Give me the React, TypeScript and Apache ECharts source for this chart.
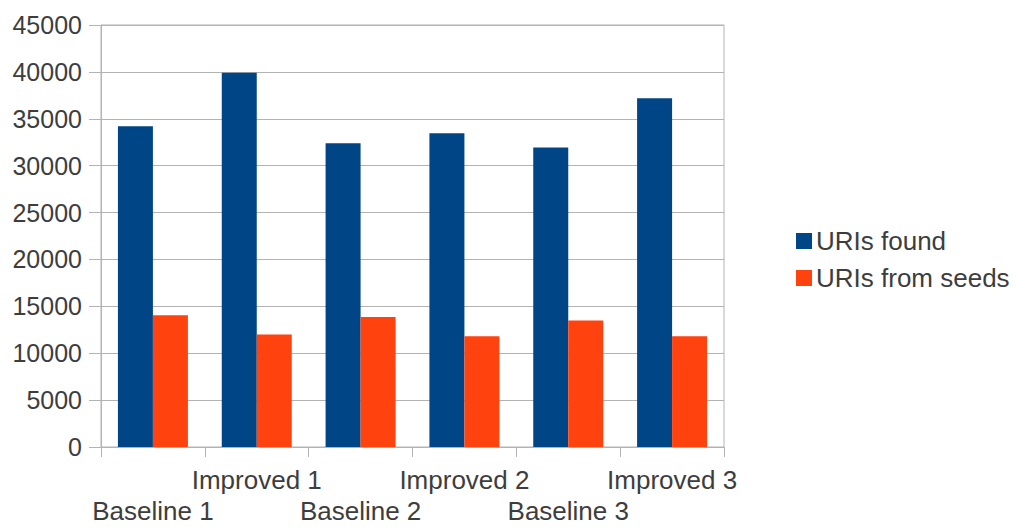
import React, { useEffect, useRef } from "react";
import * as echarts from "echarts";

const categories = ["Baseline 1", "Improved 1", "Baseline 2", "Improved 2", "Baseline 3", "Improved 3"];
const urisFound = [34200, 39900, 32400, 33450, 31950, 37200];
const urisFromSeeds = [14050, 12000, 13850, 11800, 13500, 11800];
const seriesNames = ["URIs found", "URIs from seeds"];
const yTicks = { min: 0, max: 45000, interval: 5000 };

const FONT = "'Liberation Sans', Arial, sans-serif";
const TEXT = "#3d3d3d";
const LINE = "#b3b3b3";

export default function App() {
  const ref = useRef<HTMLDivElement>(null);

  useEffect(() => {
    if (!ref.current) return;
    const chart = echarts.init(ref.current, undefined, { renderer: "svg" });
    chart.setOption({
      animation: false,
      backgroundColor: "#ffffff",
      textStyle: { fontFamily: FONT },
      grid: {
        left: 101,
        right: 292,
        top: 25,
        bottom: 83,
        containLabel: false,
        show: true,
        borderColor: LINE,
        borderWidth: 1,
      },
      legend: {
        orient: "vertical",
        left: 791,
        top: 223,
        icon: "rect",
        itemWidth: 16,
        itemHeight: 16,
        itemGap: 11,
        textStyle: { fontFamily: FONT, fontSize: 26, color: TEXT, padding: [0, 0, 0, -1] },
        data: seriesNames,
      },
      xAxis: {
        type: "category",
        data: categories,
        boundaryGap: true,
        axisLine: { show: true, lineStyle: { color: LINE, width: 1 } },
        axisTick: { show: true, length: 10, lineStyle: { color: LINE } },
        axisLabel: {
          interval: 0,
          hideOverlap: false,
          margin: 17,
          fontFamily: FONT,
          fontSize: 26,
          color: TEXT,
          lineHeight: 31,
          // Baseline labels sit on the lower row, Improved labels on the upper row
          formatter: (value: string, index: number) => (index % 2 === 0 ? "\n" + value : value + "\n"),
        },
      },
      yAxis: {
        type: "value",
        min: yTicks.min,
        max: yTicks.max,
        interval: yTicks.interval,
        axisLine: { show: true, lineStyle: { color: LINE, width: 1 } },
        axisTick: { show: true, length: 12, lineStyle: { color: LINE } },
        splitLine: { show: true, lineStyle: { color: LINE, width: 1 } },
        axisLabel: {
          margin: 19,
          fontFamily: FONT,
          fontSize: 25,
          color: TEXT,
          formatter: (v: number) => String(v),
        },
      },
      series: [
        {
          name: seriesNames[0],
          type: "bar",
          data: urisFound,
          barWidth: 35,
          barGap: "0%",
          itemStyle: { color: "#004586" },
        },
        {
          name: seriesNames[1],
          type: "bar",
          data: urisFromSeeds,
          barWidth: 35,
          barGap: "0%",
          itemStyle: { color: "#ff420e" },
        },
      ],
    });
    return () => chart.dispose();
  }, []);

  return (
    <div
      ref={ref}
      style={{ position: "absolute", left: 0, top: 0, width: 1016, height: 530, background: "#fff" }}
    />
  );
}
